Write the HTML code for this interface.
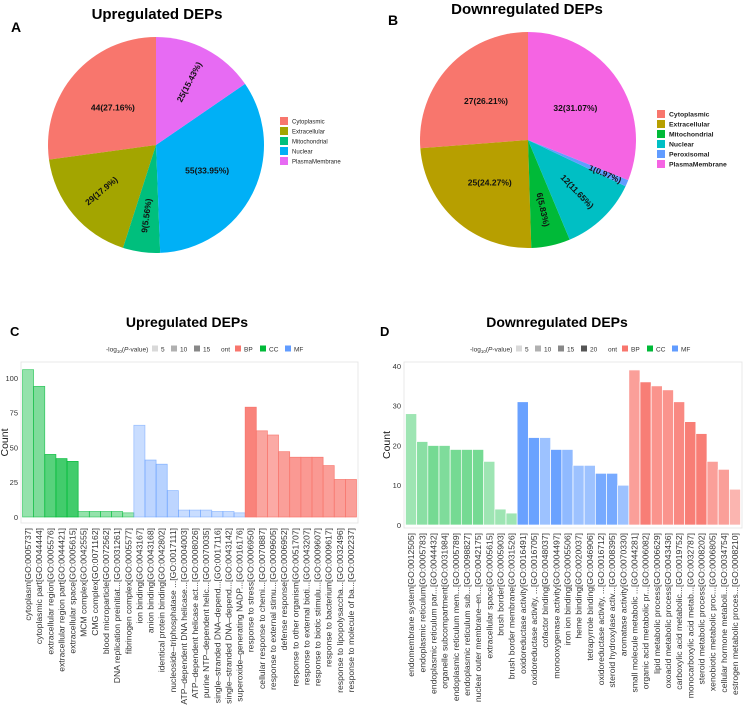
<!DOCTYPE html>
<html><head><meta charset="utf-8">
<style>
body{margin:0;background:#fff;}
svg{display:block;font-family:"Liberation Sans",sans-serif;}
</style></head>
<body>
<svg id="fig" width="743" height="716" viewBox="0 0 743 716">
<text x="157" y="19" text-anchor="middle" font-size="15" font-weight="bold">Upregulated DEPs</text>
<text x="11" y="32" font-size="14" font-weight="bold">A</text>
<text x="527" y="14" text-anchor="middle" font-size="15" font-weight="bold">Downregulated DEPs</text>
<text x="388" y="25" font-size="14" font-weight="bold">B</text>
<text x="187" y="327" text-anchor="middle" font-size="14" font-weight="bold">Upregulated DEPs</text>
<text x="10" y="336" font-size="13" font-weight="bold">C</text>
<text x="557" y="327" text-anchor="middle" font-size="14" font-weight="bold">Downregulated DEPs</text>
<text x="380" y="336" font-size="13" font-weight="bold">D</text>
<g id="layer"></g>
</svg>
<script>
// ---- Pie A data ----
const pieACats = ["Cytoplasmic","Extracellular","Mitochondrial","Nuclear","PlasmaMembrane"];
const pieAVals = [44,29,9,55,25];
const pieAPct = ["27.16","17.9","5.56","33.95","15.43"];
// ---- Pie B data ----
const pieBCats = ["Cytoplasmic","Extracellular","Mitochondrial","Nuclear","Peroxisomal","PlasmaMembrane"];
const pieBVals = [27,25,6,12,1,32];
const pieBPct = ["26.21","24.27","5.83","11.65","0.97","31.07"];
// ---- Bar C data ----
const barCLabels = ["cytoplasm[GO:0005737]","cytoplasmic part[GO:0044444]","extracellular region[GO:0005576]","extracellular region part[GO:0044421]","extracellular space[GO:0005615]","MCM complex[GO:0042555]","CMG complex[GO:0071162]","blood microparticle[GO:0072562]","DNA replication preinitiat...[GO:0031261]","fibrinogen complex[GO:0005577]",
"ion binding[GO:0043167]","anion binding[GO:0043168]","identical protein binding[GO:0042802]","nucleoside\u2013triphosphatase ...[GO:0017111]","ATP\u2013dependent DNA helicase...[GO:0004003]","ATP\u2013dependent helicase act...[GO:0008026]","purine NTP\u2013dependent helic...[GO:0070035]","single\u2013stranded DNA\u2013depend...[GO:0017116]","single\u2013stranded DNA\u2013depend...[GO:0043142]","superoxide\u2013generating NADP...[GO:0016176]",
"response to stress[GO:0006950]","cellular response to chemi...[GO:0070887]","response to external stimu...[GO:0009605]","defense response[GO:0006952]","response to other organism[GO:0051707]","response to external bioti...[GO:0043207]","response to biotic stimulu...[GO:0009607]","response to bacterium[GO:0009617]","response to lipopolysaccha...[GO:0032496]","response to molecule of ba...[GO:0002237]"];
const barCOnt = ["CC","CC","CC","CC","CC","CC","CC","CC","CC","CC","MF","MF","MF","MF","MF","MF","MF","MF","MF","MF","BP","BP","BP","BP","BP","BP","BP","BP","BP","BP"];
const barCCounts = [106,94,45,42,40,4,4,4,4,3, 66,41,38,19,5,5,5,4,4,3, 79,62,59,47,43,43,43,37,27,27];
const barCLogP = [5,7,11,13,13,5,5,5,5,4, 3,5,6,5,3,3,3,3,3,3, 17,11,10,12,13,13,13,12,12,12];
const barCTicks = [0,25,50,75,100];
// ---- Bar D data ----
const barDLabels = ["endomembrane system[GO:0012505]","endoplasmic reticulum[GO:0005783]","endoplasmic reticulum par...[GO:0044432]","organelle subcompartment[GO:0031984]","endoplasmic reticulum mem...[GO:0005789]","endoplasmic reticulum sub...[GO:0098827]","nuclear outer membrane\u2013en...[GO:0042175]","extracellular space[GO:0005615]","brush border[GO:0005903]","brush border membrane[GO:0031526]",
"oxidoreductase activity[GO:0016491]","oxidoreductase activity, ...[GO:0016705]","cofactor binding[GO:0048037]","monooxygenase activity[GO:0004497]","iron ion binding[GO:0005506]","heme binding[GO:0020037]","tetrapyrrole binding[GO:0046906]","oxidoreductase activity, ...[GO:0016712]","steroid hydroxylase activ...[GO:0008395]","aromatase activity[GO:0070330]",
"small molecule metabolic ...[GO:0044281]","organic acid metabolic pr...[GO:0006082]","lipid metabolic process[GO:0006629]","oxoacid metabolic process[GO:0043436]","carboxylic acid metabolic...[GO:0019752]","monocarboxylic acid metab...[GO:0032787]","steroid metabolic process[GO:0008202]","xenobiotic metabolic proc...[GO:0006805]","cellular hormone metaboli...[GO:0034754]","estrogen metabolic proces...[GO:0008210]"];
const barDOnt = ["CC","CC","CC","CC","CC","CC","CC","CC","CC","CC","MF","MF","MF","MF","MF","MF","MF","MF","MF","MF","BP","BP","BP","BP","BP","BP","BP","BP","BP","BP"];
const barDCounts = [28,21,20,20,19,19,19,16,4,3, 31,22,22,19,19,15,15,13,13,10, 39,36,35,34,31,26,23,16,14,9];
const barDLogP = [4,6,8,7,8,8,8,4,4,4, 20,18,10,18,12,10,10,16,16,10, 12,18,14,14,16,18,18,12,12,8];
const barDTicks = [0,10,20,30,40];

const NS="http://www.w3.org/2000/svg";
const layer=document.getElementById('layer');
function mk(tag,attrs,parent){const e=document.createElementNS(NS,tag);for(const k in attrs)e.setAttribute(k,attrs[k]);(parent||layer).appendChild(e);return e;}

const colsA=["#F8766D","#A3A500","#00BF7D","#00B0F6","#E76BF3"];
const colsB=["#F8766D","#B79F00","#00BA38","#00BFC4","#619CFF","#F564E3"];

function drawPie(cx,cy,r,cats,vals,pcts,cols,legX,legY,legStep,legBold,name){
  const g=mk('g',{});
  
  
  const tot=vals.reduce((a,b)=>a+b,0);
  let cum=0;
  vals.forEach((v,i)=>{
    const a0=cum/tot*2*Math.PI, a1=(cum+v)/tot*2*Math.PI; cum+=v;
    const p=a=>[cx-r*Math.sin(a),cy-r*Math.cos(a)];
    const [x0,y0]=p(a0),[x1,y1]=p(a1);
    const large=(a1-a0)>Math.PI?1:0;
    const path=mk('path',{d:`M${cx},${cy}L${x0},${y0}A${r},${r} 0 ${large} 0 ${x1},${y1}Z`,fill:cols[i]},g);
    
    
    const am=(a0+a1)/2;
    const pct=v/tot*100;
    const rf=pct<20?(pct<2?0.78:0.66):0.53;
    const lx=cx-r*rf*Math.sin(am), ly=cy-r*rf*Math.cos(am);
    let rot=0;
    if(pct<20){rot=Math.atan2(-Math.cos(am),-Math.sin(am))*180/Math.PI; if(rot>90)rot-=180; if(rot<-90)rot+=180;}
    const t=mk('text',{x:lx,y:ly,'text-anchor':'middle','dominant-baseline':'central','font-size':'8.5','font-weight':'bold',fill:'#111',transform:`rotate(${rot} ${lx} ${ly})`},g);
    t.textContent=v+'('+pcts[i]+'%)';
    
    
  });
  cats.forEach((c,i)=>{
    const sw=mk('rect',{x:legX,y:legY+i*legStep-4,width:8,height:8,fill:cols[i]},g);
    
    
    const t=mk('text',{x:legX+12,y:legY+i*legStep+2.5,'font-size':legBold?'6.8':'6','font-weight':legBold?'bold':'normal',fill:'#222'},g);
    t.textContent=c;
    
    
  });
}
drawPie(156,145,108,pieACats,pieAVals,pieAPct,colsA,280,121,10,false,'pie-upregulated');
drawPie(528,140,108,pieBCats,pieBVals,pieBPct,colsB,657,114,10,true,'pie-downregulated');

const ontCol={BP:"#F8766D",CC:"#00BA38",MF:"#619CFF"};
function drawBars(o){
  const g=mk('g',{});
  
  
  const {left,right,top,bottom,y0,ymax,yTop}=o;
  const panel=mk('rect',{x:left,y:top,width:right-left,height:bottom-top,fill:'#fff',stroke:'#e3e3e3','stroke-width':0.8},g);
  
  
  const ys=v=>y0-(y0-yTop)*v/ymax;
  o.ticks.forEach(tv=>{
    const t=mk('text',{x:left-3,y:ys(tv)+2.8,'text-anchor':'end','font-size':'7.5',fill:'#333'},g);
    t.textContent=tv;
    
    
  });
  const n=o.counts.length, bx0=left+1.5, bw=(right-left-3)/n;
  o.counts.forEach((v,i)=>{
    const c=ontCol[o.ont[i]];
    const al=Math.min(0.95,0.22+o.logp[i]*0.04);
    const r=mk('rect',{x:bx0+i*bw,y:ys(v),width:bw,height:y0-ys(v),fill:c,'fill-opacity':al,stroke:o.whiteGap?'#fff':c,'stroke-opacity':o.whiteGap?1:Math.min(1,al+0.25),'stroke-width':0.7},g);
    
    
    const tx=bx0+i*bw+bw/2+3, ty=o.labelTop;
    const t=mk('text',{x:tx,y:ty,'text-anchor':'end','font-size':'8.6',fill:'#333',transform:`rotate(-90 ${tx} ${ty})`},g);
    t.textContent=o.labels[i];
    
    
  });
  const cy=(top+bottom)/2;
  const at=mk('text',{x:o.titleX,y:cy,'text-anchor':'middle','font-size':'10.5',fill:'#222',transform:`rotate(-90 ${o.titleX} ${cy})`},g);
  at.textContent='Count';
  
  
  let lx=o.legX; const ly=349;
  const lt=mk('text',{x:lx,y:ly+2.5,'font-size':'6.5',fill:'#333'},g);
  lt.innerHTML='-log<tspan font-size="4.5" dy="1.5">10</tspan><tspan dy="-1.5">(</tspan><tspan font-style="italic">P</tspan>-value)';
  
  
  lx+=46;
  const greys=['#d9d9d9','#b0b0b0','#888','#555'];
  o.legVals.forEach((lv,i)=>{
    const s=mk('rect',{x:lx,y:ly-3.5,width:6,height:6,fill:greys[i]},g);
    
    
    const t=mk('text',{x:lx+9,y:ly+2.5,'font-size':'6.5',fill:'#333'},g);
    t.textContent=lv;
    
    
    lx+=9+(String(lv).length*4)+6;
  });
  lx+=4;
  const ot=mk('text',{x:lx,y:ly+2.5,'font-size':'6.5',fill:'#333'},g);
  ot.textContent='ont';
  
  
  lx+=14;
  ['BP','CC','MF'].forEach(k=>{
    const s=mk('rect',{x:lx,y:ly-3.5,width:6,height:6,fill:ontCol[k]},g);
    
    
    const t=mk('text',{x:lx+9,y:ly+2.5,'font-size':'6.5',fill:'#333'},g);
    t.textContent=k;
    
    
    lx+=25;
  });
}
drawBars({name:'bar-chart-upregulated',left:21,right:358,top:362,bottom:523,y0:517,yTop:378,ymax:100,ticks:barCTicks,counts:barCCounts,ont:barCOnt,logp:barCLogP,labels:barCLabels,labelTop:528,titleX:8,legX:106,legVals:[5,10,15],whiteGap:false});
drawBars({name:'bar-chart-downregulated',left:404,right:742,top:362,bottom:528,y0:525,yTop:366,ymax:40,ticks:barDTicks,counts:barDCounts,ont:barDOnt,logp:barDLogP,labels:barDLabels,labelTop:533,titleX:390,legX:470,legVals:[5,10,15,20],whiteGap:true});
</script>
</body></html>
